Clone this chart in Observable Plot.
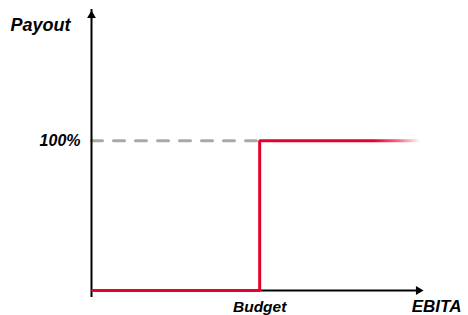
<!DOCTYPE html>
<html>
<head>
<meta charset="utf-8">
<script src="https://cdn.jsdelivr.net/npm/d3@7"></script>
<script src="https://cdn.jsdelivr.net/npm/@observablehq/plot@0.6"></script>
<style>
  html, body { margin: 0; padding: 0; background: #fff; }
  #chart svg { display: block; }
</style>
</head>
<body>
<div id="chart"></div>
<script>
// EBITA as % of budget, payout as % of target
const xDomain = [0, 198];
const yDomain = [0, 187.5];
const budget = 100;
const lineEnd = 195.5;
const fadeStart = 168;
const payoutBelow = 0;
const payoutAbove = 100;

const stepX = [0, budget, budget, lineEnd];
const stepY = [payoutBelow, payoutBelow, payoutAbove, payoutAbove];

const dashX = [0, budget];
const dashY = [payoutAbove, payoutAbove];

const yTicks = [100];
const yTickLabels = ["100%"];
const xTicks = [budget];
const xTickLabels = ["Budget"];
const yTitle = "Payout";
const xTitle = "EBITA";

const stepData = stepX.map((x, i) => ({x, y: stepY[i]}));
const dashData = dashX.map((x, i) => ({x, y: dashY[i]}));

const font = "Liberation Sans, Arial, sans-serif";

const chart = Plot.plot({
  width: 468,
  height: 315,
  marginLeft: 91,
  marginRight: 44,
  marginTop: 9,
  marginBottom: 25,
  style: {fontFamily: font, background: "#fff"},
  x: {domain: xDomain, axis: null},
  y: {domain: yDomain, axis: null},
  marks: [
    // dashed reference
    Plot.line(dashData, {x: "x", y: "y", stroke: "#a9a9a9", strokeWidth: 3, strokeDasharray: "11,11"}),
    // axes
    Plot.ruleX([0], {y1: 0, y2: yDomain[1], stroke: "#000", strokeWidth: 2, insetTop: 7}),
    Plot.ruleY([0], {x1: 0, x2: xDomain[1], stroke: "#000", strokeWidth: 2, insetRight: 7}),
    Plot.dot([0], {x: 0, y: yDomain[1], symbol: "triangle2", r: 4.2, fill: "#000", stroke: null, dy: 6}),
    Plot.dot([0], {x: xDomain[1], y: 0, symbol: "triangle2", r: 4.2, fill: "#000", stroke: null, rotate: 90, dx: -6}),
    // payout step line
    Plot.line(stepData, {x: "x", y: "y", stroke: "url(#fadeGrad)", strokeWidth: 3, strokeLinejoin: "miter", strokeLinecap: "butt"}),
    // tick labels
    Plot.text(yTicks, {x: 0, y: d => d, text: (d, i) => yTickLabels[i], textAnchor: "end", dx: -11, fontSize: 16, fontWeight: "bold", fontStyle: "italic", fill: "#000"}),
    Plot.text(xTicks, {x: d => d, y: 0, text: (d, i) => xTickLabels[i], textAnchor: "middle", dy: 16.5, fontSize: 15.5, fontWeight: "bold", fontStyle: "italic", fill: "#000"}),
    // axis titles
    Plot.text([yTitle], {frameAnchor: "top-left", dx: -81, dy: 9, text: d => d, textAnchor: "start", fontSize: 18, fontWeight: "bold", fontStyle: "italic", fill: "#000"}),
    Plot.text([xTitle], {x: xDomain[1], y: 0, text: d => d, textAnchor: "end", dx: 37, dy: 16.5, fontSize: 17, fontWeight: "bold", fontStyle: "italic", fill: "#000"})
  ]
});

// gradient fading the red line out at its right end (positions from the x scale)
const xs = chart.scale("x");
const x0 = xs.apply(fadeStart);
const x1 = xs.apply(lineEnd);
const svg = d3.select(chart);
const defs = svg.insert("defs", ":first-child");
const grad = defs.append("linearGradient")
  .attr("id", "fadeGrad")
  .attr("gradientUnits", "userSpaceOnUse")
  .attr("x1", x0).attr("y1", 0).attr("x2", x1).attr("y2", 0);
grad.append("stop").attr("offset", 0).attr("stop-color", "#e8002d").attr("stop-opacity", 1);
grad.append("stop").attr("offset", 0.5).attr("stop-color", "#e8002d").attr("stop-opacity", 0.6);
grad.append("stop").attr("offset", 1).attr("stop-color", "#e8002d").attr("stop-opacity", 0.02);

document.getElementById("chart").appendChild(chart);
</script>
</body>
</html>
